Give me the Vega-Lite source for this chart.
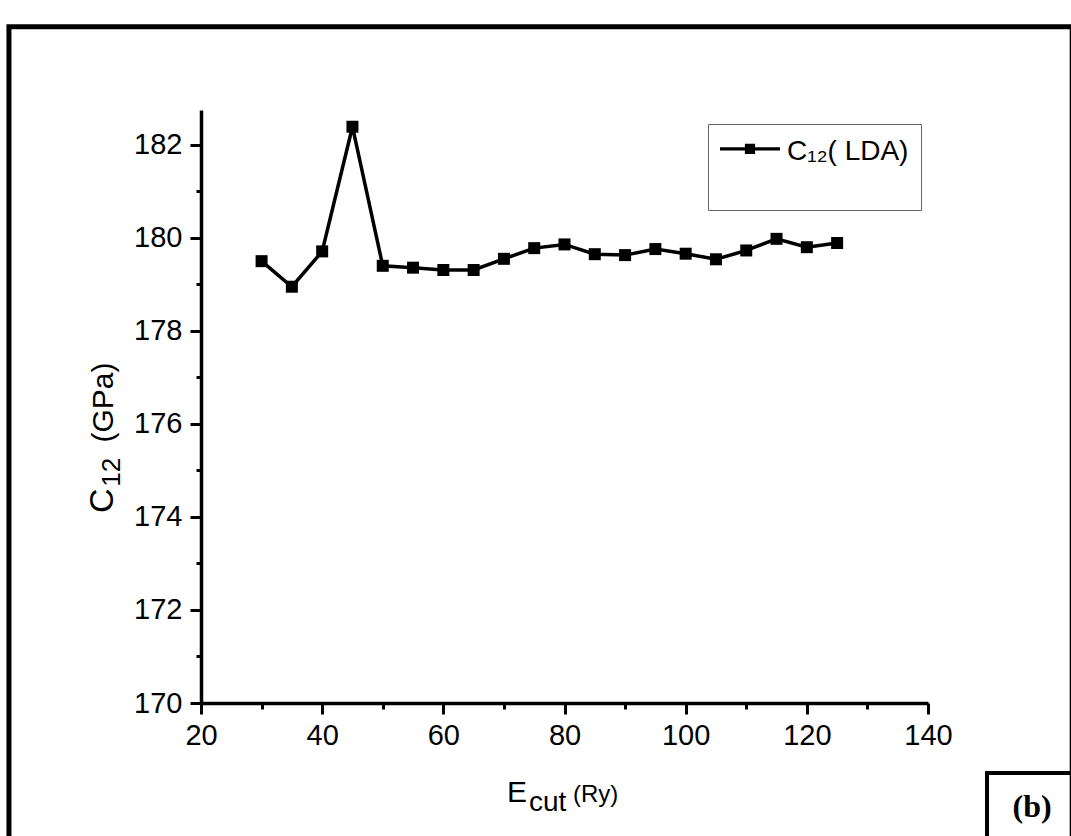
{
  "$schema": "https://vega.github.io/schema/vega-lite/v6.json",
  "width": 727,
  "height": 593,
  "autosize": {"type": "none"},
  "padding": {"left": 201, "top": 110, "right": 143, "bottom": 133},
  "background": "white",
  "config": {
    "view": {"stroke": null},
    "font": "Liberation Sans",
    "axis": {
      "grid": false,
      "domainColor": "black",
      "domainWidth": 3.5,
      "tickColor": "black",
      "tickWidth": 3,
      "labelFont": "Liberation Sans",
      "labelFontSize": 29,
      "labelColor": "black",
      "title": null
    }
  },
  "layer": [
    {
      "data": {"values": [
        {"ecut": 30, "c12": 179.50, "series": "C₁₂( LDA)"},
        {"ecut": 35, "c12": 178.95, "series": "C₁₂( LDA)"},
        {"ecut": 40, "c12": 179.71, "series": "C₁₂( LDA)"},
        {"ecut": 45, "c12": 182.39, "series": "C₁₂( LDA)"},
        {"ecut": 50, "c12": 179.40, "series": "C₁₂( LDA)"},
        {"ecut": 55, "c12": 179.36, "series": "C₁₂( LDA)"},
        {"ecut": 60, "c12": 179.31, "series": "C₁₂( LDA)"},
        {"ecut": 65, "c12": 179.31, "series": "C₁₂( LDA)"},
        {"ecut": 70, "c12": 179.55, "series": "C₁₂( LDA)"},
        {"ecut": 75, "c12": 179.78, "series": "C₁₂( LDA)"},
        {"ecut": 80, "c12": 179.86, "series": "C₁₂( LDA)"},
        {"ecut": 85, "c12": 179.65, "series": "C₁₂( LDA)"},
        {"ecut": 90, "c12": 179.63, "series": "C₁₂( LDA)"},
        {"ecut": 95, "c12": 179.76, "series": "C₁₂( LDA)"},
        {"ecut": 100, "c12": 179.66, "series": "C₁₂( LDA)"},
        {"ecut": 105, "c12": 179.54, "series": "C₁₂( LDA)"},
        {"ecut": 110, "c12": 179.73, "series": "C₁₂( LDA)"},
        {"ecut": 115, "c12": 179.98, "series": "C₁₂( LDA)"},
        {"ecut": 120, "c12": 179.80, "series": "C₁₂( LDA)"},
        {"ecut": 125, "c12": 179.89, "series": "C₁₂( LDA)"}
      ]},
      "mark": {"type": "line", "strokeWidth": 3.5, "point": {"shape": "square", "filled": true, "size": 144, "opacity": 1}},
      "encoding": {
        "x": {
          "field": "ecut", "type": "quantitative",
          "scale": {"domain": [20, 140], "nice": false, "zero": false},
          "axis": {
            "values": [20, 30, 40, 50, 60, 70, 80, 90, 100, 110, 120, 130, 140],
            "labelExpr": "datum.value % 20 === 0 ? datum.label : ''",
            "tickSize": {"condition": {"test": "datum.value % 20 === 0", "value": 11}, "value": 6},
            "labelPadding": 7,
            "labelFlush": false
          }
        },
        "y": {
          "field": "c12", "type": "quantitative",
          "scale": {"domain": [170, 182.75], "nice": false, "zero": false},
          "axis": {
            "values": [170, 171, 172, 173, 174, 175, 176, 177, 178, 179, 180, 181, 182],
            "labelExpr": "datum.value % 2 === 0 ? datum.label : ''",
            "tickSize": {"condition": {"test": "datum.value % 2 === 0", "value": 11}, "value": 5},
            "labelPadding": 8,
            "labelFlush": false
          }
        },
        "color": {
          "field": "series", "type": "nominal",
          "scale": {"range": ["black"]},
          "legend": {
            "orient": "none", "legendX": 507, "legendY": 14,
            "title": null,
            "padding": 12,
            "strokeColor": "#666666", "fillColor": "white",
            "symbolType": "M-1,-0.625L1,-0.625L1,-0.515L-1,-0.515Z M-0.17,-0.74L0.17,-0.74L0.17,-0.4L-0.17,-0.4Z M0,1.06L0.001,1.06L0,1.061Z",
            "symbolSize": 3600, "symbolFillColor": "black", "symbolStrokeColor": "black", "symbolStrokeWidth": 0,
            "labelFont": "Liberation Sans", "labelFontSize": 28, "labelBaseline": "bottom", "labelOffset": 7, "labelColor": "black", "labelLimit": 300
          }
        }
      }
    },
    {
      "data": {"values": [{"t": "E"}]},
      "mark": {"type": "text", "align": "left", "baseline": "alphabetic", "fontSize": 30, "font": "Liberation Sans", "color": "black"},
      "encoding": {"text": {"field": "t"}, "x": {"datum": 70.51}, "y": {"datum": 167.871}}
    },
    {
      "data": {"values": [{"t": "cut"}]},
      "mark": {"type": "text", "align": "left", "baseline": "alphabetic", "fontSize": 28, "font": "Liberation Sans", "color": "black"},
      "encoding": {"text": {"field": "t"}, "x": {"datum": 74.14}, "y": {"datum": 167.677}}
    },
    {
      "data": {"values": [{"t": "(Ry)"}]},
      "mark": {"type": "text", "align": "left", "baseline": "alphabetic", "fontSize": 24, "font": "Liberation Sans", "color": "black"},
      "encoding": {"text": {"field": "t"}, "x": {"datum": 81.4}, "y": {"datum": 167.871}}
    },
    {
      "data": {"values": [{"t": "C"}]},
      "mark": {"type": "text", "align": "left", "baseline": "alphabetic", "angle": 270, "fontSize": 34, "font": "Liberation Sans", "color": "black"},
      "encoding": {"text": {"field": "t"}, "x": {"datum": 5.47}, "y": {"datum": 174.086}}
    },
    {
      "data": {"values": [{"t": "12"}]},
      "mark": {"type": "text", "align": "left", "baseline": "alphabetic", "angle": 270, "fontSize": 26, "font": "Liberation Sans", "color": "black"},
      "encoding": {"text": {"field": "t"}, "x": {"datum": 6.63}, "y": {"datum": 174.65}}
    },
    {
      "data": {"values": [{"t": "(GPa)"}]},
      "mark": {"type": "text", "align": "left", "baseline": "alphabetic", "angle": 270, "fontSize": 30, "font": "Liberation Sans", "color": "black"},
      "encoding": {"text": {"field": "t"}, "x": {"datum": 5.47}, "y": {"datum": 175.6}}
    },
    {
      "data": {"values": [{"frame": "outer"}]},
      "mark": {"type": "rect", "filled": false, "stroke": "black", "strokeWidth": 5},
      "encoding": {"x": {"datum": -11.7}, "x2": {"datum": 163.8}, "y": {"datum": 184.54}, "y2": {"datum": 167.05}}
    },
    {
      "data": {"values": [{"frame": "panel"}]},
      "mark": {"type": "rect", "filled": false, "stroke": "black", "strokeWidth": 4},
      "encoding": {"x": {"datum": 149.74}, "x2": {"datum": 163.8}, "y": {"datum": 168.495}, "y2": {"datum": 167.05}}
    },
    {
      "data": {"values": [{"t": "(b)"}]},
      "mark": {"type": "text", "align": "center", "baseline": "alphabetic", "fontSize": 32, "fontWeight": "bold", "font": "Liberation Serif", "color": "black"},
      "encoding": {"text": {"field": "t"}, "x": {"datum": 157.17}, "y": {"datum": 167.548}}
    }
  ]
}
